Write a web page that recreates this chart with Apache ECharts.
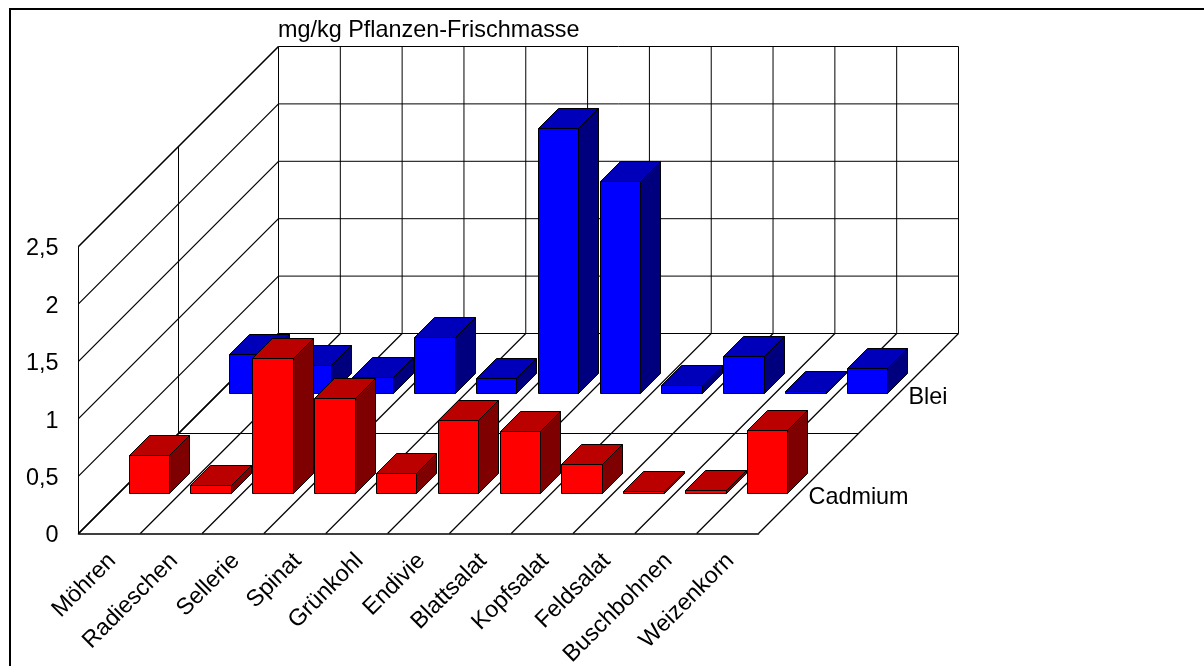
<!DOCTYPE html>
<html>
<head>
<meta charset="utf-8">
<style>
  html, body { margin: 0; padding: 0; background: #fff; }
  #chart { width: 1204px; height: 666px; }
</style>
<script src="https://cdn.jsdelivr.net/npm/echarts@6/dist/echarts.min.js"></script>
</head>
<body>
<div id="chart"></div>
<script>
const categories = ['Möhren', 'Radieschen', 'Sellerie', 'Spinat', 'Grünkohl', 'Endivie',
  'Blattsalat', 'Kopfsalat', 'Feldsalat', 'Buschbohnen', 'Weizenkorn'];
const cadmium = [0.33, 0.07, 1.18, 0.83, 0.17, 0.64, 0.54, 0.25, 0.02, 0.03, 0.55];
const blei = [0.34, 0.24, 0.14, 0.49, 0.13, 2.31, 1.85, 0.07, 0.32, 0.02, 0.22];
const yTicks = [0, 0.5, 1, 1.5, 2, 2.5];
const rowNames = ['Cadmium', 'Blei'];

// oblique projection: depth moves a point right and up by the same number of pixels
const DEPTH = 200;
const BAR_DEPTH = 20;
const BAR_SHARE = 0.655;
const FONT = '"Liberation Sans", Arial, sans-serif';
const FONT_SIZE = 23.4;

const shift = (p, d) => [p[0] + d, p[1] - d];
const snap = p => [Math.round(p[0] - 0.5) + 0.5, Math.round(p[1] - 0.5) + 0.5];
const rowDepth = i => DEPTH * (i + 0.5) / rowNames.length;

function line(a, b, width) {
  return {
    type: 'line',
    shape: { x1: a[0], y1: a[1], x2: b[0], y2: b[1] },
    style: { stroke: '#000', lineWidth: width || 1 },
  };
}

function renderWalls(params, api) {
  const children = [];
  const band = api.size([1, 0])[0];
  const last = categories.length - 1;
  const x0 = api.coord([0, 0])[0] - band / 2;
  const y0 = api.coord([0, 0])[1];
  const xEnd = api.coord([last, 0])[0] + band / 2;
  const yTop = api.coord([0, yTicks[yTicks.length - 1]])[1];

  // value gridlines on the left and back walls
  yTicks.forEach((v) => {
    const y = api.coord([0, v])[1];
    const outer = v === 0 || v === yTicks[yTicks.length - 1];
    children.push(line([x0, y], shift([x0, y], DEPTH), outer ? 1.6 : 1.2));
    children.push(line(shift([x0, y], DEPTH), shift([xEnd, y], DEPTH)));
  });

  // category gridlines on the floor and back wall
  for (let i = 0; i <= categories.length; i += 1) {
    const x = x0 + band * i;
    children.push(line([x, y0], shift([x, y0], DEPTH), 1.2));
    children.push(line(shift([x, y0], DEPTH), shift([x, yTop], DEPTH)));
  }

  // line between the two rows, on the floor and up the left wall
  children.push(line(shift([x0, y0], DEPTH / 2), shift([xEnd, y0], DEPTH / 2)));
  children.push(line(shift([x0, y0], DEPTH / 2), shift([x0, yTop], DEPTH / 2)));

  rowNames.forEach((name, i) => {
    const p = shift([xEnd, y0], rowDepth(i));
    children.push({
      type: 'text',
      style: {
        text: name,
        x: p[0],
        y: p[1] + 14.5,
        font: FONT_SIZE + 'px ' + FONT,
        fill: '#000',
        verticalAlign: 'middle',
      },
    });
  });
  return { type: 'group', children };
}

function barRenderer(row, front, top, side) {
  return function renderBar(params, api) {
    const cat = api.value(0);
    const val = api.value(1);
    const halfW = api.size([1, 0])[0] * BAR_SHARE / 2;
    const base = api.coord([cat, 0]);
    const head = api.coord([cat, val]);
    const d0 = rowDepth(row) - BAR_DEPTH / 2;
    const bl = snap(shift([base[0] - halfW, base[1]], d0));
    const br = [snap(shift([base[0] + halfW, base[1]], d0))[0], bl[1]];
    const tl = [bl[0], snap(shift(head, d0))[1]];
    const tr = [br[0], tl[1]];
    const poly = (points, fill) => ({
      type: 'polygon',
      shape: { points },
      style: { fill, stroke: '#000', lineWidth: 1 },
    });
    return {
      type: 'group',
      children: [
        poly([tl, tr, shift(tr, BAR_DEPTH), shift(tl, BAR_DEPTH)], top),
        poly([br, tr, shift(tr, BAR_DEPTH), shift(br, BAR_DEPTH)], side),
        poly([bl, br, tr, tl], front),
      ],
    };
  };
}

const chart = echarts.init(document.getElementById('chart'));
chart.setOption({
  animation: false,
  backgroundColor: '#fff',
  title: {
    text: 'mg/kg Pflanzen-Frischmasse',
    left: 278,
    top: 19,
    padding: 0,
    textStyle: { fontFamily: FONT, fontSize: FONT_SIZE, fontWeight: 'normal', color: '#000' },
  },
  graphic: [{
    type: 'rect',
    shape: { x: 10, y: 9, width: 1400, height: 900 },
    style: { fill: 'none', stroke: '#000', lineWidth: 2 },
    silent: true,
  }],
  grid: {
    left: 78.5, top: 246.5, width: 680, height: 287, outerBoundsMode: 'none',
  },
  xAxis: {
    type: 'category',
    data: categories,
    axisLine: { show: true, lineStyle: { color: '#000', width: 1.5 } },
    axisTick: { show: false },
    axisLabel: {
      interval: 0,
      rotate: 45,
      margin: 21,
      verticalAlign: 'top',
      lineHeight: 8,
      fontFamily: FONT,
      fontSize: FONT_SIZE,
      color: '#000',
    },
    splitLine: { show: false },
  },
  yAxis: {
    type: 'value',
    min: 0,
    max: 2.5,
    interval: 0.5,
    axisLine: { show: true, lineStyle: { color: '#000', width: 1 } },
    axisTick: { show: false },
    axisLabel: {
      margin: 20,
      verticalAlign: 'top',
      lineHeight: 5,
      fontFamily: FONT,
      fontSize: FONT_SIZE,
      color: '#000',
      formatter: v => String(v).replace('.', ','),
    },
    splitLine: { show: false },
  },
  series: [
    { type: 'custom', silent: true, renderItem: renderWalls, data: [[0, 0]] },
    {
      type: 'custom',
      name: 'Blei',
      silent: true,
      renderItem: barRenderer(1, '#0000ff', '#0000bb', '#00007f'),
      data: blei.map((v, i) => [i, v]),
    },
    {
      type: 'custom',
      name: 'Cadmium',
      silent: true,
      renderItem: barRenderer(0, '#ff0000', '#bb0000', '#7f0000'),
      data: cadmium.map((v, i) => [i, v]),
    },
  ],
});
</script>
</body>
</html>
